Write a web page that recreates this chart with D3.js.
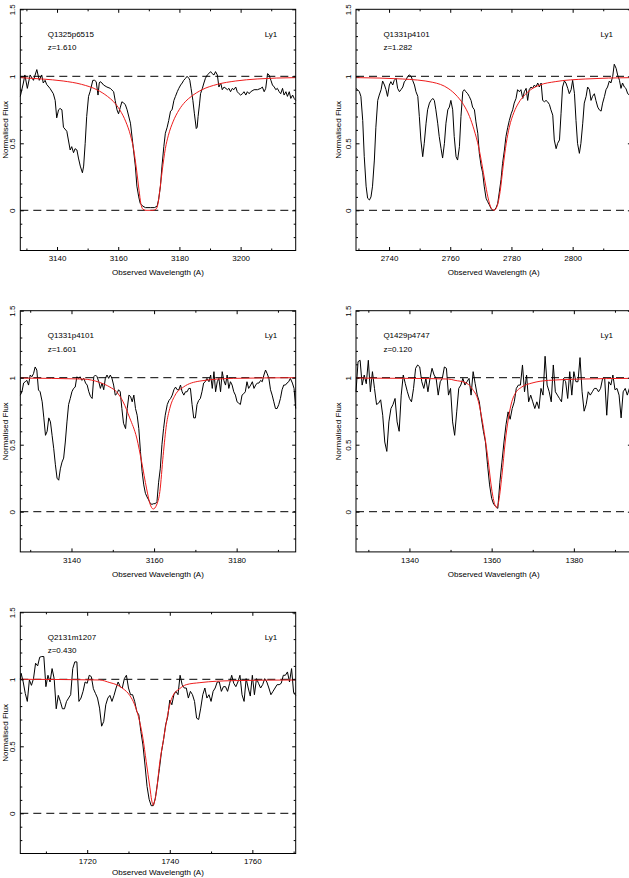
<!DOCTYPE html>
<html>
<head>
<meta charset="utf-8">
<script src="https://cdn.jsdelivr.net/npm/d3@7"></script>
<style>
  body { margin: 0; background: #ffffff; }
  svg { display: block; }
</style>
</head>
<body>
<svg id="chart" width="629" height="878"></svg>
<script>
// ---------------- DATA ----------------
const quasarNames = ["Q1325p6515", "Q1331p4101", "Q1331p4101", "Q1429p4747", "Q2131m1207"];
const redshiftLabels = ["z=1.610", "z=1.282", "z=1.601", "z=0.120", "z=0.430"];
const lineLabel = "Ly1";
const xAxisTitle = "Observed Wavelength (A)";
const yAxisTitle = "Normalised Flux";

const yDomain = [-0.3, 1.5];
const yMajorTicks = [0, 0.5, 1, 1.5];
const yMinorTicks = [-0.2, -0.1, 0.1, 0.2, 0.3, 0.4, 0.6, 0.7, 0.8, 0.9, 1.1, 1.2, 1.3, 1.4];
const referenceLevels = [0, 1];

// Panel 1: Q1325p6515
const p1Range = [3128.0, 3218.0];
const p1MajorTicks = [3140, 3160, 3180, 3200];
const p1MinorTicks = [3130, 3150, 3170, 3190, 3210];
const p1Wave = [3128.0, 3129.0, 3129.5, 3130.3, 3131.2, 3132.3, 3133.4, 3134.2, 3135.0, 3135.5,
  3136.1, 3136.6, 3137.7, 3138.8, 3139.4, 3139.9, 3140.5, 3141.0, 3141.6, 3142.1,
  3143.2, 3144.3, 3144.8, 3145.4, 3145.9, 3146.5, 3147.0, 3147.6, 3148.3, 3148.7,
  3149.2, 3149.7, 3150.3, 3150.8, 3151.7, 3152.3, 3152.8, 3153.4, 3153.8, 3154.1,
  3154.7, 3155.2, 3156.3, 3157.4, 3158.5, 3159.0, 3159.6, 3160.1, 3160.7, 3161.2,
  3161.8, 3162.3, 3162.9, 3164.0, 3165.0, 3165.6, 3166.1, 3166.7, 3167.2, 3168.1,
  3168.9, 3170.5, 3171.8, 3172.7, 3173.2, 3173.8, 3174.3, 3174.9, 3175.4, 3176.0,
  3176.5, 3177.1, 3177.6, 3178.2, 3178.7, 3179.3, 3179.8, 3180.4, 3180.9, 3181.4,
  3182.0, 3182.5, 3183.1, 3183.4, 3183.8, 3184.4, 3184.9, 3185.5, 3185.8, 3186.1,
  3186.6, 3186.9, 3187.5, 3188.0, 3188.5, 3189.1, 3189.6, 3190.2, 3190.7, 3191.3,
  3191.8, 3192.4, 3192.9, 3193.5, 3194.0, 3194.6, 3195.7, 3196.2, 3196.7, 3197.3,
  3197.8, 3198.4, 3198.9, 3199.5, 3200.0, 3200.6, 3201.1, 3201.7, 3202.2, 3202.8,
  3203.3, 3204.4, 3205.5, 3206.6, 3207.1, 3207.7, 3208.2, 3208.8, 3209.3, 3209.9,
  3210.4, 3211.0, 3211.5, 3212.0, 3212.6, 3213.1, 3213.7, 3214.2, 3214.8, 3215.3,
  3215.9, 3216.4, 3217.0, 3217.5, 3218.0];
const p1Flux = [0.85, 0.95, 1.01, 0.91, 1.01, 0.97, 1.05, 0.97, 1.01, 0.95,
  0.97, 0.94, 0.91, 0.87, 0.82, 0.69, 0.75, 0.76, 0.75, 0.62,
  0.59, 0.45, 0.475, 0.43, 0.46, 0.45, 0.39, 0.33, 0.28, 0.33,
  0.50, 0.70, 0.85, 0.885, 0.97, 0.97, 0.96, 0.86, 0.95, 0.96,
  0.95, 0.935, 0.92, 0.91, 0.885, 0.82, 0.75, 0.72, 0.77, 0.81,
  0.80, 0.79, 0.75, 0.65, 0.45, 0.33, 0.18, 0.10, 0.05, 0.03,
  0.02, 0.02, 0.02, 0.03, 0.08, 0.18, 0.33, 0.475, 0.575, 0.62,
  0.67, 0.74, 0.75, 0.82, 0.85, 0.885, 0.91, 0.935, 0.95, 0.97,
  0.985, 1.0, 0.985, 0.97, 0.91, 0.82, 0.72, 0.61, 0.62, 0.70,
  0.80, 0.87, 0.91, 0.95, 0.985, 1.01, 1.02, 1.035, 1.02, 1.01,
  1.035, 1.01, 0.92, 0.95, 0.90, 0.92, 0.90, 0.91, 0.885, 0.91,
  0.90, 0.92, 0.885, 0.87, 0.86, 0.87, 0.885, 0.86, 0.885, 0.87,
  0.885, 0.90, 0.90, 0.91, 0.92, 0.885, 0.91, 1.02, 1.01, 0.97,
  0.935, 0.92, 0.90, 0.91, 0.885, 0.87, 0.91, 0.86, 0.885, 0.85,
  0.885, 0.835, 0.86, 0.835, 0.82];
const p1ModelWave = [3128.0, 3135.0, 3142.0, 3148.0, 3153.0, 3156.5, 3158.5, 3160.5, 3162.5, 3164.0,
  3165.0, 3166.0, 3166.8, 3167.4, 3168.0, 3169.0, 3171.4, 3172.4, 3173.0, 3173.6,
  3174.4, 3175.4, 3176.4, 3177.9, 3179.9, 3181.9, 3183.9, 3187.4, 3192.4, 3198.4,
  3205.4, 3218.0];
const p1ModelFlux = [0.99, 0.98, 0.965, 0.94, 0.90, 0.85, 0.81, 0.75, 0.66, 0.56,
  0.46, 0.30, 0.15, 0.05, 0.01, 0.0, 0.0, 0.01, 0.05, 0.15,
  0.30, 0.46, 0.56, 0.66, 0.75, 0.81, 0.85, 0.90, 0.94, 0.965,
  0.98, 0.99];

// Panel 2: Q1331p4101 z=1.282
const p2Range = [2729.2, 2819.2];
const p2MajorTicks = [2740, 2760, 2780, 2800];
const p2MinorTicks = [2730, 2750, 2770, 2790, 2810];
const p2Wave = [2729.2, 2729.7, 2730.3, 2730.8, 2731.4, 2731.9, 2732.5, 2733.0, 2733.6, 2734.1,
  2734.6, 2735.2, 2735.7, 2736.3, 2736.8, 2737.4, 2737.9, 2738.5, 2739.0, 2739.5,
  2740.1, 2740.6, 2741.2, 2741.7, 2742.3, 2742.8, 2743.4, 2743.9, 2744.5, 2745.0,
  2745.5, 2746.1, 2746.6, 2747.2, 2747.7, 2748.3, 2748.8, 2749.4, 2749.9, 2750.4,
  2751.0, 2751.5, 2752.1, 2752.6, 2753.2, 2753.7, 2754.3, 2754.8, 2755.3, 2755.9,
  2756.4, 2757.0, 2757.5, 2758.1, 2758.6, 2759.2, 2759.7, 2760.2, 2760.8, 2761.3,
  2761.9, 2762.4, 2763.0, 2763.5, 2764.1, 2764.6, 2765.1, 2765.7, 2766.2, 2766.8,
  2767.3, 2767.9, 2768.4, 2769.0, 2769.5, 2770.1, 2770.6, 2771.1, 2771.7, 2772.2,
  2772.8, 2773.3, 2773.9, 2774.4, 2775.0, 2775.5, 2776.0, 2776.6, 2777.1, 2777.7,
  2778.2, 2778.8, 2779.3, 2779.9, 2780.4, 2780.9, 2781.5, 2782.0, 2782.6, 2783.1,
  2783.7, 2784.2, 2784.8, 2785.3, 2785.8, 2786.4, 2786.9, 2787.5, 2788.0, 2788.6,
  2789.1, 2789.7, 2790.2, 2790.8, 2791.3, 2791.8, 2792.4, 2792.9, 2793.5, 2794.0,
  2794.6, 2795.1, 2795.7, 2796.2, 2796.7, 2797.3, 2797.8, 2798.4, 2798.9, 2799.5,
  2800.0, 2800.6, 2801.1, 2801.6, 2802.2, 2802.7, 2803.3, 2803.8, 2804.4, 2804.9,
  2805.5, 2806.0, 2806.5, 2807.1, 2807.6, 2808.2, 2808.7, 2809.3, 2809.8, 2810.4,
  2810.9, 2811.4, 2812.0, 2812.5, 2813.1, 2813.6, 2814.2, 2814.7, 2815.3, 2815.8,
  2816.3, 2816.9, 2817.4, 2818.0, 2818.6, 2819.2];
const p2Flux = [0.91, 0.90, 0.885, 0.85, 0.67, 0.40, 0.18, 0.09, 0.077, 0.10,
  0.18, 0.375, 0.62, 0.82, 0.86, 0.90, 0.965, 0.935, 0.90, 0.85,
  0.935, 0.96, 0.935, 0.97, 0.985, 0.91, 0.885, 0.90, 0.92, 0.96,
  0.97, 1.0, 1.01, 1.0, 0.97, 0.935, 0.885, 0.85, 0.70, 0.525,
  0.40, 0.50, 0.65, 0.75, 0.80, 0.82, 0.835, 0.82, 0.75, 0.65,
  0.55, 0.46, 0.39, 0.50, 0.65, 0.75, 0.77, 0.82, 0.75, 0.55,
  0.40, 0.375, 0.475, 0.70, 0.885, 0.90, 0.885, 0.87, 0.85, 0.82,
  0.77, 0.75, 0.66, 0.575, 0.425, 0.33, 0.28, 0.18, 0.09, 0.065,
  0.04, 0.015, 0.0, 0.0, 0.02, 0.05, 0.13, 0.23, 0.35, 0.45,
  0.55, 0.62, 0.67, 0.72, 0.75, 0.80, 0.835, 0.90, 0.885, 0.90,
  0.835, 0.885, 0.91, 0.82, 0.90, 0.92, 0.91, 0.935, 0.92, 0.95,
  0.92, 0.95, 0.82, 0.81, 0.82, 0.81, 0.79, 0.75, 0.71, 0.525,
  0.46, 0.50, 0.525, 0.72, 0.92, 0.965, 0.95, 0.91, 0.87, 0.90,
  0.97, 0.87, 0.67, 0.50, 0.425, 0.50, 0.65, 0.80, 0.85, 0.92,
  0.90, 0.82, 0.85, 0.87, 0.82, 0.77, 0.75, 0.74, 0.80, 0.85,
  0.90, 0.92, 0.965, 0.95, 1.0, 1.09, 1.06, 1.01, 0.97, 0.91,
  0.95, 0.92, 0.91, 0.87, 0.86, 0.88];
const p2ModelWave = [2729.2, 2744.3, 2754.3, 2759.3, 2762.3, 2764.3, 2766.3, 2767.8, 2769.3, 2770.3,
  2771.3, 2772.3, 2773.3, 2774.3, 2775.3, 2776.3, 2777.3, 2778.3, 2779.3, 2780.8,
  2782.3, 2784.3, 2786.3, 2789.3, 2794.3, 2804.3, 2819.2];
const p2ModelFlux = [0.99, 0.98, 0.955, 0.91, 0.85, 0.79, 0.70, 0.60, 0.47, 0.35,
  0.22, 0.10, 0.02, 0.0, 0.03, 0.14, 0.33, 0.50, 0.62, 0.73,
  0.80, 0.86, 0.90, 0.935, 0.96, 0.98, 0.99];

// Panel 3: Q1331p4101 z=1.601
const p3Range = [3127.6, 3194.3];
const p3MajorTicks = [3140, 3160, 3180];
const p3MinorTicks = [3130, 3150, 3170, 3190];
const p3Wave = [3127.6, 3128.0, 3128.4, 3128.8, 3129.2, 3129.6, 3130.0, 3130.4, 3130.8, 3131.2,
  3131.6, 3132.0, 3132.4, 3132.9, 3133.3, 3133.7, 3134.1, 3134.5, 3134.9, 3135.3,
  3135.7, 3136.1, 3136.5, 3136.9, 3137.3, 3137.7, 3138.1, 3138.5, 3138.9, 3139.3,
  3139.7, 3140.1, 3140.5, 3140.9, 3141.3, 3141.7, 3142.1, 3142.5, 3143.0, 3143.4,
  3143.8, 3144.2, 3144.6, 3145.0, 3145.4, 3145.8, 3146.2, 3146.6, 3147.0, 3147.4,
  3147.8, 3148.2, 3148.6, 3149.0, 3149.4, 3149.8, 3150.2, 3150.6, 3151.0, 3151.4,
  3151.8, 3152.2, 3152.6, 3153.1, 3153.5, 3153.9, 3154.3, 3154.7, 3155.1, 3155.5,
  3155.9, 3156.3, 3156.7, 3157.1, 3157.5, 3157.9, 3158.3, 3158.7, 3159.1, 3159.5,
  3159.9, 3160.3, 3160.7, 3161.1, 3161.5, 3161.9, 3162.3, 3162.7, 3163.2, 3163.6,
  3164.0, 3164.4, 3164.8, 3165.2, 3165.6, 3166.0, 3166.4, 3166.8, 3167.2, 3167.6,
  3168.0, 3168.4, 3168.8, 3169.2, 3169.6, 3170.0, 3170.4, 3170.8, 3171.2, 3171.6,
  3172.0, 3172.4, 3172.8, 3173.3, 3173.7, 3174.1, 3174.5, 3174.9, 3175.3, 3175.7,
  3176.1, 3176.5, 3176.9, 3177.3, 3177.7, 3178.1, 3178.5, 3178.9, 3179.3, 3179.7,
  3180.1, 3180.5, 3180.9, 3181.3, 3181.7, 3182.1, 3182.5, 3182.9, 3183.4, 3183.8,
  3184.2, 3184.6, 3185.0, 3185.4, 3185.8, 3186.2, 3186.6, 3187.0, 3187.4, 3187.8,
  3188.2, 3188.6, 3189.0, 3189.4, 3189.8, 3190.2, 3190.6, 3191.0, 3191.4, 3191.8,
  3192.2, 3192.6, 3193.0, 3193.5, 3193.9, 3194.3];
const p3Flux = [0.87, 0.895, 0.96, 0.97, 0.98, 0.945, 1.02, 1.007, 1.03, 1.08,
  1.057, 0.908, 0.895, 0.82, 0.70, 0.57, 0.60, 0.70, 0.67, 0.57,
  0.47, 0.35, 0.25, 0.235, 0.32, 0.37, 0.40, 0.52, 0.67, 0.80,
  0.845, 0.895, 0.92, 0.93, 1.007, 0.995, 1.007, 0.98, 0.995, 0.96,
  0.945, 0.895, 0.86, 0.845, 1.007, 1.02, 1.007, 0.97, 0.92, 0.96,
  0.91, 0.995, 1.02, 0.995, 1.02, 0.995, 0.945, 0.87, 0.88, 0.91,
  0.895, 0.77, 0.66, 0.62, 0.77, 0.87, 0.86, 0.82, 0.87, 0.77,
  0.72, 0.62, 0.45, 0.30, 0.20, 0.137, 0.11, 0.087, 0.06, 0.055,
  0.06, 0.06, 0.075, 0.22, 0.32, 0.50, 0.62, 0.72, 0.80, 0.83,
  0.845, 0.87, 0.91, 0.93, 0.91, 0.91, 0.945, 0.895, 0.87, 0.895,
  0.895, 0.92, 0.92, 0.80, 0.70, 0.70, 0.80, 0.83, 0.845, 0.895,
  0.96, 0.97, 0.995, 0.97, 1.02, 0.92, 1.045, 0.895, 0.97, 0.995,
  0.895, 1.045, 0.98, 0.945, 1.02, 0.92, 0.97, 0.945, 0.895, 0.87,
  0.82, 0.81, 0.80, 0.87, 0.88, 0.895, 0.97, 0.92, 0.945, 0.97,
  0.92, 0.945, 0.96, 0.96, 0.98, 0.97, 1.02, 1.057, 1.03, 0.995,
  0.91, 0.87, 0.82, 0.77, 0.77, 0.80, 0.845, 0.91, 0.945, 0.945,
  0.96, 0.97, 0.995, 0.96, 0.92, 0.77];
const p3ModelWave = [3127.6, 3142.8, 3146.8, 3149.3, 3150.9, 3152.5, 3154.1, 3155.8, 3157.0, 3158.2,
  3159.0, 3159.8, 3160.6, 3161.4, 3162.2, 3163.0, 3163.8, 3165.1, 3167.1, 3171.1,
  3179.2, 3194.3];
const p3ModelFlux = [0.997, 0.99, 0.965, 0.93, 0.895, 0.82, 0.70, 0.55, 0.37, 0.17,
  0.06, 0.02, 0.05, 0.15, 0.42, 0.65, 0.77, 0.87, 0.93, 0.975,
  0.995, 1.0];

// Panel 4: Q1429p4747 z=0.120
const p4Range = [1327.0, 1394.0];
const p4MajorTicks = [1340, 1360, 1380];
const p4MinorTicks = [1330, 1350, 1370, 1390];
const p4Wave = [1327.0, 1327.5, 1328.0, 1328.5, 1329.0, 1329.5, 1330.0, 1330.5, 1331.0, 1331.5,
  1332.0, 1332.5, 1333.0, 1333.5, 1334.0, 1334.5, 1335.0, 1335.5, 1336.0, 1336.5,
  1337.0, 1337.5, 1338.0, 1338.5, 1339.0, 1339.5, 1340.0, 1340.5, 1341.0, 1341.5,
  1342.0, 1342.5, 1343.0, 1343.5, 1344.0, 1344.5, 1345.0, 1345.5, 1346.0, 1346.5,
  1347.0, 1347.5, 1348.0, 1348.5, 1349.0, 1349.5, 1350.0, 1350.5, 1351.0, 1351.5,
  1352.0, 1352.5, 1353.0, 1353.5, 1354.0, 1354.5, 1355.0, 1355.5, 1356.0, 1356.5,
  1357.0, 1357.5, 1358.0, 1358.5, 1359.0, 1359.5, 1360.0, 1360.5, 1361.0, 1361.5,
  1362.0, 1362.5, 1363.0, 1363.5, 1364.0, 1364.5, 1365.0, 1365.5, 1366.0, 1366.5,
  1367.0, 1367.5, 1368.0, 1368.5, 1369.0, 1369.5, 1370.0, 1370.5, 1371.0, 1371.5,
  1372.0, 1372.5, 1373.0, 1373.5, 1374.0, 1374.5, 1375.0, 1375.5, 1376.0, 1376.5,
  1377.0, 1377.5, 1378.0, 1378.5, 1379.0, 1379.5, 1380.0, 1380.5, 1381.0, 1381.5,
  1382.0, 1382.5, 1383.0, 1383.5, 1384.0, 1384.5, 1385.0, 1385.5, 1386.0, 1386.5,
  1387.0, 1387.5, 1388.0, 1388.5, 1389.0, 1389.5, 1390.0, 1390.5, 1391.0, 1391.5,
  1392.0, 1392.5, 1393.0, 1393.5, 1394.0];
const p4Flux = [0.895, 1.12, 1.13, 0.945, 1.02, 0.955, 1.13, 0.895, 1.045, 0.92,
  0.80, 0.81, 0.835, 0.72, 0.52, 0.45, 0.67, 0.77, 0.80, 0.845,
  0.67, 0.60, 0.87, 1.02, 0.955, 0.895, 0.845, 0.82, 0.92, 1.07,
  1.095, 1.08, 0.97, 0.92, 0.995, 0.895, 0.995, 1.07, 1.02, 0.995,
  0.87, 0.97, 0.995, 1.08, 1.07, 0.87, 0.92, 0.67, 0.57, 0.745,
  0.92, 0.945, 0.995, 0.945, 0.97, 0.995, 0.87, 1.045, 0.955, 0.87,
  0.82, 0.70, 0.60, 0.52, 0.35, 0.20, 0.10, 0.055, 0.04, 0.025,
  0.22, 0.37, 0.52, 0.65, 0.745, 0.69, 0.77, 0.82, 0.92, 0.945,
  0.945, 1.095, 0.895, 1.02, 0.82, 0.87, 0.82, 0.77, 0.82, 0.77,
  0.92, 0.87, 1.16, 0.945, 0.895, 0.82, 1.095, 0.895, 0.87, 0.845,
  0.82, 0.995, 0.97, 0.845, 1.045, 0.87, 1.045, 0.97, 0.97, 1.15,
  0.895, 0.75, 0.80, 0.895, 0.87, 0.895, 0.92, 0.92, 0.895, 0.92,
  0.995, 0.995, 0.72, 0.97, 0.945, 1.02, 0.91, 0.92, 0.87, 0.70,
  0.895, 0.92, 0.87, 0.92, 0.90];
const p4ModelWave = [1327.0, 1340.0, 1349.5, 1351.1, 1353.5, 1355.2, 1356.8, 1357.6, 1358.4, 1359.2,
  1360.0, 1360.8, 1361.2, 1361.6, 1362.5, 1363.3, 1364.1, 1364.9, 1365.7, 1367.3,
  1369.8, 1373.8, 1381.9, 1394.0];
const p4ModelFlux = [0.997, 0.995, 0.99, 0.98, 0.965, 0.92, 0.82, 0.70, 0.55, 0.37,
  0.17, 0.05, 0.03, 0.06, 0.27, 0.52, 0.70, 0.82, 0.88, 0.93,
  0.96, 0.98, 0.99, 0.995];

// Panel 5: Q2131m1207 z=0.430
const p5Range = [1703.8, 1770.5];
const p5MajorTicks = [1720, 1740, 1760];
const p5MinorTicks = [1710, 1730, 1750, 1770];
const p5Wave = [1703.8, 1704.0, 1704.5, 1705.0, 1705.5, 1706.0, 1706.5, 1707.0, 1707.5, 1708.0, 1708.5,
  1709.0, 1709.5, 1710.0, 1710.5, 1711.0, 1711.5, 1712.0, 1712.5, 1713.0, 1713.5,
  1714.0, 1714.5, 1715.0, 1715.5, 1716.0, 1716.5, 1717.0, 1717.5, 1718.0, 1718.5,
  1719.0, 1719.5, 1720.0, 1720.5, 1721.0, 1721.5, 1722.0, 1722.5, 1723.0, 1723.5,
  1724.0, 1724.5, 1725.0, 1725.5, 1726.0, 1726.5, 1727.0, 1727.5, 1728.0, 1728.5,
  1729.0, 1729.5, 1730.0, 1730.5, 1731.0, 1731.5, 1732.0, 1732.5, 1733.0, 1733.5,
  1734.0, 1734.5, 1735.0, 1735.5, 1736.0, 1736.5, 1737.0, 1737.5, 1738.0, 1738.5,
  1739.0, 1739.5, 1740.0, 1740.5, 1741.0, 1741.5, 1742.0, 1742.5, 1743.0, 1743.5,
  1744.0, 1744.5, 1745.0, 1745.5, 1746.0, 1746.5, 1747.0, 1747.5, 1748.0, 1748.5,
  1749.0, 1749.5, 1750.0, 1750.5, 1751.0, 1751.5, 1752.0, 1752.5, 1753.0, 1753.5,
  1754.0, 1754.5, 1755.0, 1755.5, 1756.0, 1756.5, 1757.0, 1757.5, 1758.0, 1758.5,
  1759.0, 1759.5, 1760.0, 1760.5, 1761.0, 1761.5, 1762.0, 1762.5, 1763.0, 1763.5,
  1764.0, 1764.5, 1765.0, 1765.5, 1766.0, 1766.5, 1767.0, 1767.5, 1768.0, 1768.5,
  1769.0, 1769.5, 1770.0, 1770.5];
const p5Flux = [1.0, 1.045, 0.98, 0.895, 0.835, 0.995, 0.955, 1.005, 1.12, 1.10, 1.165,
  1.17, 1.17, 0.945, 1.03, 0.98, 1.08, 1.005, 0.78, 0.88, 0.835,
  0.78, 0.78, 0.835, 0.86, 0.885, 1.08, 1.13, 1.13, 0.835, 0.86,
  0.91, 0.98, 0.97, 1.03, 1.02, 0.93, 0.895, 0.86, 0.785, 0.65,
  0.685, 0.81, 0.86, 0.88, 0.835, 0.88, 0.935, 0.98, 0.945, 0.935,
  1.005, 1.03, 0.935, 0.885, 0.885, 0.835, 0.76, 0.735, 0.61, 0.51,
  0.36, 0.20, 0.105, 0.057, 0.057, 0.11, 0.22, 0.335, 0.46, 0.55,
  0.66, 0.72, 0.845, 0.81, 0.885, 0.91, 0.885, 1.03, 0.96, 0.935,
  0.935, 0.86, 0.91, 0.885, 0.835, 0.71, 0.70, 0.785, 0.885, 0.935,
  0.86, 0.885, 0.835, 0.91, 0.935, 0.98, 0.98, 0.91, 0.945, 0.945,
  0.91, 0.97, 1.03, 0.97, 0.945, 0.98, 1.03, 0.885, 0.835, 1.005,
  0.935, 0.875, 1.03, 0.885, 1.005, 0.97, 0.935, 0.96, 1.005, 0.98,
  0.935, 0.885, 0.91, 0.935, 0.96, 0.96, 0.97, 1.03, 1.03, 1.055,
  0.98, 1.08, 0.90, 0.88];
const p5ModelWave = [1703.8, 1723.0, 1725.5, 1727.1, 1728.7, 1730.3, 1731.5, 1732.7, 1733.5, 1734.3,
  1735.2, 1735.6, 1736.0, 1736.4, 1736.8, 1737.6, 1738.4, 1739.2, 1740.0, 1740.8,
  1742.4, 1744.0, 1747.3, 1755.4, 1770.5];
const p5ModelFlux = [1.0, 0.995, 0.975, 0.96, 0.93, 0.88, 0.81, 0.685, 0.56, 0.385,
  0.19, 0.10, 0.06, 0.10, 0.17, 0.385, 0.535, 0.685, 0.81, 0.88,
  0.93, 0.96, 0.975, 0.99, 0.995];

// ---------------- LAYOUT / STYLE ----------------
const FONT = "'Liberation Sans', Arial, Helvetica, sans-serif";
const FONT_SIZE = 8;
const PAGE_W = 629, PAGE_H = 878;
const colLeft = [20.3, 356.0];
const rowTop = [9.3, 310.7, 612.3];
const plotW = 275.4;
const plotH = 241.2;
const MAJOR_TICK = 3.5;
const MINOR_TICK = 2;
const RED = "#ee1c1c";

const panels = [
  { name: quasarNames[0], z: redshiftLabels[0], range: p1Range, major: p1MajorTicks, minor: p1MinorTicks,
    wave: p1Wave, flux: p1Flux, mWave: p1ModelWave, mFlux: p1ModelFlux, col: 0, row: 0 },
  { name: quasarNames[1], z: redshiftLabels[1], range: p2Range, major: p2MajorTicks, minor: p2MinorTicks,
    wave: p2Wave, flux: p2Flux, mWave: p2ModelWave, mFlux: p2ModelFlux, col: 1, row: 0 },
  { name: quasarNames[2], z: redshiftLabels[2], range: p3Range, major: p3MajorTicks, minor: p3MinorTicks,
    wave: p3Wave, flux: p3Flux, mWave: p3ModelWave, mFlux: p3ModelFlux, col: 0, row: 1 },
  { name: quasarNames[3], z: redshiftLabels[3], range: p4Range, major: p4MajorTicks, minor: p4MinorTicks,
    wave: p4Wave, flux: p4Flux, mWave: p4ModelWave, mFlux: p4ModelFlux, col: 1, row: 1 },
  { name: quasarNames[4], z: redshiftLabels[4], range: p5Range, major: p5MajorTicks, minor: p5MinorTicks,
    wave: p5Wave, flux: p5Flux, mWave: p5ModelWave, mFlux: p5ModelFlux, col: 0, row: 2 }
];

const svg = d3.select("#chart");
svg.append("rect").attr("width", PAGE_W).attr("height", PAGE_H).attr("fill", "#ffffff");

function styleAxis(g) {
  g.attr("font-family", FONT).attr("font-size", FONT_SIZE);
  g.select(".domain").remove();
  g.selectAll(".tick line").attr("stroke", "#000").attr("stroke-width", 1);
  g.selectAll(".tick text").attr("fill", "#000");
}
function noLabels(g) { g.selectAll(".tick text").remove(); }

panels.forEach(p => {
  const ox = colLeft[p.col], oy = rowTop[p.row];
  const g = svg.append("g").attr("transform", `translate(${ox},${oy})`);

  const x = d3.scaleLinear().domain(p.range).range([0, plotW]);
  const y = d3.scaleLinear().domain(yDomain).range([plotH, 0]);

  // reference dashed lines
  g.selectAll("line.ref").data(referenceLevels).enter().append("line")
    .attr("class", "ref")
    .attr("x1", 0).attr("x2", plotW)
    .attr("y1", d => y(d)).attr("y2", d => y(d))
    .attr("stroke", "#000").attr("stroke-width", 1)
    .attr("stroke-dasharray", "8,5");

  // observed spectrum
  const spec = d3.zip(p.wave, p.flux);
  g.append("path").datum(spec)
    .attr("fill", "none").attr("stroke", "#000").attr("stroke-width", 1)
    .attr("stroke-linejoin", "round")
    .attr("d", d3.line().x(d => x(d[0])).y(d => y(d[1])));

  // fitted model
  const model = d3.zip(p.mWave, p.mFlux);
  g.append("path").datum(model)
    .attr("fill", "none").attr("stroke", RED).attr("stroke-width", 1)
    .attr("d", d3.line().curve(d3.curveMonotoneX).x(d => x(d[0])).y(d => y(d[1])));

  // frame
  g.append("rect").attr("x", 0).attr("y", 0).attr("width", plotW).attr("height", plotH)
    .attr("fill", "none").attr("stroke", "#000").attr("stroke-width", 1);

  // bottom axis (labelled)
  g.append("g").attr("transform", `translate(0,${plotH})`)
    .call(d3.axisBottom(x).tickValues(p.major).tickSizeInner(-MAJOR_TICK).tickSizeOuter(0)
      .tickPadding(5).tickFormat(d3.format("d")))
    .call(styleAxis);
  g.append("g").attr("transform", `translate(0,${plotH})`)
    .call(d3.axisBottom(x).tickValues(p.minor).tickSizeInner(-MINOR_TICK).tickSizeOuter(0))
    .call(styleAxis).call(noLabels);
  // top axis
  g.append("g")
    .call(d3.axisTop(x).tickValues(p.major).tickSizeInner(-MAJOR_TICK).tickSizeOuter(0))
    .call(styleAxis).call(noLabels);
  g.append("g")
    .call(d3.axisTop(x).tickValues(p.minor).tickSizeInner(-MINOR_TICK).tickSizeOuter(0))
    .call(styleAxis).call(noLabels);
  // left axis (labelled, rotated)
  const left = g.append("g")
    .call(d3.axisLeft(y).tickValues(yMajorTicks).tickSizeInner(-MAJOR_TICK).tickSizeOuter(0)
      .tickFormat(d => String(d)))
    .call(styleAxis);
  left.selectAll(".tick text")
    .attr("transform", "rotate(-90)")
    .attr("x", 0).attr("y", -5.3).attr("dy", null).attr("dx", null)
    .attr("text-anchor", "middle");
  g.append("g")
    .call(d3.axisLeft(y).tickValues(yMinorTicks).tickSizeInner(-MINOR_TICK).tickSizeOuter(0))
    .call(styleAxis).call(noLabels);
  // right axis
  g.append("g").attr("transform", `translate(${plotW},0)`)
    .call(d3.axisRight(y).tickValues(yMajorTicks).tickSizeInner(-MAJOR_TICK).tickSizeOuter(0))
    .call(styleAxis).call(noLabels);
  g.append("g").attr("transform", `translate(${plotW},0)`)
    .call(d3.axisRight(y).tickValues(yMinorTicks).tickSizeInner(-MINOR_TICK).tickSizeOuter(0))
    .call(styleAxis).call(noLabels);

  // axis titles (kept fully inside the page)
  const xTitleY = Math.min(plotH + 25, PAGE_H - 3 - oy);
  g.append("text")
    .attr("x", plotW / 2).attr("y", xTitleY)
    .attr("text-anchor", "middle")
    .attr("font-family", FONT).attr("font-size", FONT_SIZE).attr("fill", "#000")
    .text(xAxisTitle);
  const yTitleX = Math.max(-15, 8.2 - ox);
  g.append("text")
    .attr("transform", `translate(${yTitleX},${plotH / 2}) rotate(-90)`)
    .attr("text-anchor", "middle")
    .attr("font-family", FONT).attr("font-size", FONT_SIZE).attr("fill", "#000")
    .text(yAxisTitle);

  // annotations
  g.append("text").attr("x", 27.4).attr("y", 27.6)
    .attr("font-family", FONT).attr("font-size", FONT_SIZE).attr("fill", "#000")
    .text(p.name);
  g.append("text").attr("x", 27.4).attr("y", 40.9)
    .attr("font-family", FONT).attr("font-size", FONT_SIZE).attr("fill", "#000")
    .text(p.z);
  g.append("text").attr("x", 257).attr("y", 27.6).attr("text-anchor", "end")
    .attr("font-family", FONT).attr("font-size", FONT_SIZE).attr("fill", "#000")
    .text(lineLabel);
});
</script>
</body>
</html>
